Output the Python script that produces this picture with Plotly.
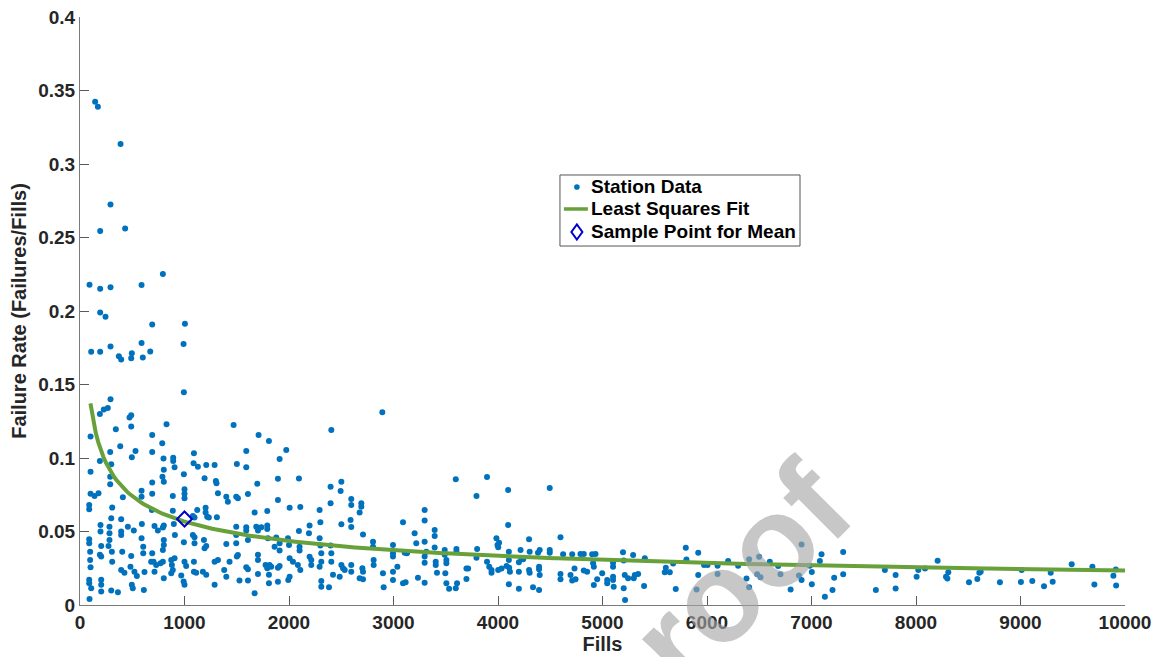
import numpy as np
import plotly.graph_objects as go

# ---- Station data (Fills, Failure rate) ----
UPPER_FILLS = [145, 171, 388, 292, 193, 432, 793, 91, 193, 292, 589, 193, 244, 691, 1004,
               107, 193, 292, 372, 394, 490, 496, 601, 672, 589, 991]
UPPER_RATE = [.3424, .339, .3136, .2725, .2544, .2562, .2251, .2179, .2152, .2161, .2177, .199, .1961,
              .1909, .1913, .1723, .1723, .1759, .1693, .167, .1678, .1712, .1684, .1725, .1782, .1775]

LEFT_FILLS = [994, 292, 266, 228, 190, 490, 474, 828, 490, 343, 101, 691, 787, 385, 531, 496, 691, 289,
              190, 299, 101, 799, 892, 892, 802, 905, 789, 802, 994, 1090, 1087, 1128, 1208, 1288, 1192,
              1300, 1306, 289, 289, 691, 589, 589, 691, 410, 101, 139, 177, 88, 88, 308, 888, 1000, 1000,
              1000, 1400, 1415, 1320, 1122, 1202, 1202, 1217, 1233, 1310, 1080, 1096, 888, 688, 299, 394,
              458, 592, 713, 793, 802, 196, 196, 282, 282, 394, 394, 515, 745, 898, 908, 994, 1080, 1096,
              1186, 1208, 1192, 1096, 88, 88, 97, 97, 101, 203, 190, 203, 282, 273, 305, 308, 404, 490,
              483, 589, 605, 605, 691, 704, 729, 713, 681, 802, 802, 793, 793, 770, 873, 879, 888, 873,
              905, 1000, 1016, 1090, 1090, 1112, 1176, 1208, 1288, 1320, 1380, 1400, 1431, 394, 425, 521,
              544, 617, 802, 969, 992, 1000, 1288, 88, 88, 107, 203, 203, 203, 299, 363, 496, 505, 611,
              91, 1400]
LEFT_RATE = [.1447, .140, .134, .133, .130, .129, .1275, .123, .1214, .1195, .1146, .1157, .110, .108,
             .1048, .1005, .104, .104, .098, .0957, .0907, .0996, .1002, .098, .092, .0937, .0873, .0839,
             .0889, .1032, .0964, .0941, .0953, .0953, .0862, .0844, .0828, .0873, .0821, .0833, .0778,
             .0737, .0756, .0733, .0756, .0742, .076, .068, .0651, .0663, .0742, .0787, .0756, .0726,
             .0737, .0703, .076, .0647, .0662, .0629, .0601, .0595, .0597, .0606, .0595, .0642, .0647,
             .059, .0583, .0533, .0551, .0538, .0527, .054, .0545, .05, .0533, .0488, .05, .0477, .0506,
             .0506, .0551, .0477, .0427, .0477, .0461, .0443, .0402, .0386, .042, .0447, .042, .0363,
             .0306, .0257, .0402, .0341, .033, .0443, .0402, .0363, .0295, .0363, .0334, .026, .0454,
             .0397, .0352, .0352, .0295, .0272, .0227, .0295, .0443, .0409, .0375, .0295, .0284, .0306,
             .0272, .0238, .0216, .0318, .0295, .0266, .0295, .0227, .022, .0227, .0205, .0295, .0306,
             .0238, .0193, .0295, .0238, .022, .0227, .0198, .0225, .0182, .02, .016, .0137, .0137,
             .0171, .0148, .0114, .0171, .0137, .0091, .0098, .0087, .0137, .0114, .0102, .004, .0415]

MID_FILLS = [1470, 2893, 1709, 1808, 2405, 1591, 1501, 1591, 1974, 1910, 1894, 2095, 1696, 1607, 1495,
             1511, 1894, 2398, 2501, 2494, 2398, 2006, 2108, 1671, 1792, 2293, 2300, 2596, 2596, 2692,
             2692, 2676, 2197, 2191, 2095, 2589, 2596, 2501, 2708, 1495, 1495, 1591, 1591, 1687, 1703,
             1735, 1792, 1792, 1798, 1607, 1878, 1910, 1990, 2000, 2101, 2101, 2293, 2300, 2309, 2309,
             2293, 2197, 2213, 2213, 2085, 2108, 2006, 2038, 2006, 1993, 2398, 2405, 2405, 2501, 2517,
             2533, 2485, 2421, 2596, 2596, 2702, 2708, 2676, 2708, 2804, 2804, 2810, 2810, 2899, 2906,
             1495, 1501, 1511, 1591, 1607, 1703, 1792, 1808, 1808, 1830, 1894, 1910, 1894, 1526, 1607,
             1671, 2309, 2309, 2383, 1862, 1910, 1703, 1703, 1776, 1814]
MID_RATE = [.1225, .1311, .1157, .1116, .119, .1048, .096, .0937, .1055, .0994, .0858, .086, .0824,
            .0755, .0737, .0726, .0715, .0805, .0839, .0776, .0692, .0662, .0667, .0629, .064, .0647,
            .0563, .0721, .068, .0692, .0669, .063, .054, .0488, .0504, .0579, .053, .0549, .0479, .0533,
            .0477, .0529, .0506, .0533, .0506, .0529, .054, .0517, .0454, .0442, .046, .042, .0454, .0409,
            .0397, .037, .0454, .0404, .0352, .0295, .0261, .0329, .0306, .0272, .0272, .0238, .0318,
            .0295, .0193, .017, .0404, .0352, .0295, .0272, .025, .0238, .0193, .0205, .0272, .0227,
            .025, .0227, .0182, .0175, .0431, .0397, .0306, .0272, .0216, .012, .042, .033, .034, .0257,
            .0243, .0211, .025, .0205, .0148, .0261, .0254, .0266, .0159, .0166, .0166, .008, .0164,
            .0125, .012, .0397, .037, .0341, .0306, .0272, .0272]

RIGHT_FILLS = [2995, 2995, 2995, 2995, 2995, 3037, 3091, 3091, 3116, 3107, 3129, 3202, 3218, 3234, 3298,
               3298, 3298, 3298, 3298, 3298, 3314, 3394, 3394, 3394, 3404, 3404, 3416, 3490, 3490, 3506,
               3506, 3496, 3506, 3532, 3596, 3608, 3596, 3602, 3602, 3698, 3714, 3698, 3794, 3800, 3794,
               3895, 3895, 3916, 3938, 3938, 3985, 3995, 4002, 4010, 4002, 4034, 4082, 4107, 4114, 4097,
               4097, 4104, 4104, 4104, 4200, 4200, 4200, 4216, 4225, 4241, 4297, 4303, 4297, 4303, 4335,
               4393, 4393, 4399, 4393, 4399, 4383, 4495, 4495, 4495, 4598, 4623, 4598, 4598, 4694, 4710,
               4742, 4732, 4710, 4789, 4821, 4821, 4853, 4901, 4917, 4933, 4910, 4949, 4917, 4997, 5045,
               5045, 5101, 5101, 5101, 5101, 5107, 5196, 5203, 5213, 5203, 5216, 5245, 5293, 5309, 5299,
               5341, 5398, 5405]
RIGHT_RATE = [.0409, .0352, .033, .0227, .017, .0261, .0563, .0148, .0155, .0356, .0352, .0488, .042,
              .0186, .0647, .0574, .0431, .033, .0288, .0152, .0363, .051, .047, .0392, .0295, .0272,
              .022, .0374, .0341, .0306, .0284, .0216, .0148, .011, .0114, .0148, .0855, .0381, .0363,
              .0249, .0249, .0177, .0742, .0381, .0322, .087, .0295, .0261, .0238, .022, .0454, .0409,
              .0393, .0424, .0238, .0249, .0266, .0254, .0227, .0783, .0544, .0363, .0306, .0141, .0291,
              .0227, .011, .0374, .0318, .0311, .0447, .0363, .0238, .022, .0121, .0261, .0243, .0204,
              .0102, .0374, .0356, .0374, .0356, .0796, .0461, .0345, .0211, .0175, .0204, .0166, .0175,
              .0249, .0345, .0347, .0347, .0234, .0227, .0345, .0261, .0347, .0284, .0175, .0136, .0216,
              .017, .0148, .0288, .0261, .0193, .017, .0125, .0358, .0302, .0204, .0114, .0034, .0182,
              .034, .0204, .0182, .0211, .013, .0318]

FAR_FILLS = [5606, 5596, 5644, 5676, 5701, 5797, 5803, 5900, 5916, 5916, 5972, 6005, 6101, 6101, 6202,
             6298, 6403, 6378, 6403, 6499, 6480, 6512, 6601, 6681, 6703, 6800, 6905, 6880, 6905, 6984,
             7003, 7003, 7080, 7096, 7128, 7201, 7217, 7303, 7303, 7616, 7702, 7805, 7805, 8006, 8022,
             8086, 8207, 8287, 8300, 8309, 8507, 8587, 8606, 8619, 8803, 9004, 9011, 9113, 9225, 9289,
             9308, 9490, 9688, 9707, 9889, 9915, 9912]
FAR_RATE = [.0253, .0222, .0222, .0283, .0108, .039, .031, .0106, .0356, .0204, .0272, .0272, .0267,
            .0211, .0299, .0267, .0312, .0181, .012, .0328, .021, .0188, .0294, .0265, .021, .0106, .0412,
            .0201, .017, .0267, .0142, .0224, .0299, .0346, .0056, .0102, .0186, .036, .021, .0102, .0238,
            .0204, .0113, .0193, .0238, .0249, .0301, .0192, .0181, .0222, .0154, .0177, .0219, .0226,
            .0154, .0156, .0238, .0163, .0127, .022, .0158, .0278, .026, .014, .0199, .0133, .0242]

# ---- Least squares power-law fit  rate = A * fills^B (coefficients) ----
FIT_A = 0.80
FIT_B = -0.383
FIT_RANGE = [100, 10000]

# ---- Sample point for mean ----
SAMPLE_FILLS = [1000]
SAMPLE_RATE = [0.0585]

X_TICKS = [0, 1000, 2000, 3000, 4000, 5000, 6000, 7000, 8000, 9000, 10000]
Y_TICKS = [0, 0.05, 0.1, 0.15, 0.2, 0.25, 0.3, 0.35, 0.4]
Y_TICK_TEXT = ["0", "0.05", "0.1", "0.15", "0.2", "0.25", "0.3", "0.35", "0.4"]

LEGEND_LABELS = ["Station Data", "Least Squares Fit", "Sample Point for Mean"]

fills = UPPER_FILLS + LEFT_FILLS + MID_FILLS + RIGHT_FILLS + FAR_FILLS
rate = UPPER_RATE + LEFT_RATE + MID_RATE + RIGHT_RATE + FAR_RATE

fit_x = np.linspace(FIT_RANGE[0], FIT_RANGE[1], 400)
fit_y = FIT_A * fit_x ** FIT_B

FONT = "Liberation Sans, Arial, sans-serif"
TXT = "#262626"
DOT_C = "#0072BD"
FIT_C = "#68A03A"
DIA_C = "#0000CC"

fig = go.Figure()
fig.add_trace(go.Scatter(x=fills, y=rate, mode="markers", name=LEGEND_LABELS[0], showlegend=False,
                         marker=dict(size=6, color=DOT_C, line=dict(width=0))))
fig.add_trace(go.Scatter(x=fit_x, y=fit_y, mode="lines", name=LEGEND_LABELS[1], showlegend=False,
                         line=dict(color=FIT_C, width=4)))
fig.add_trace(go.Scatter(x=SAMPLE_FILLS, y=SAMPLE_RATE, mode="markers", name=LEGEND_LABELS[2],
                         showlegend=False,
                         marker=dict(symbol="diamond-open", size=11.5, color=DIA_C,
                                     line=dict(width=2, color=DIA_C))))

axis_common = dict(showgrid=False, zeroline=False, showline=True, linecolor="#7a7a7a", linewidth=1,
                   ticks="inside", ticklen=9, tickcolor="#5a5a5a", tickwidth=1, automargin=False,
                   tickfont=dict(family=FONT, size=19, color=TXT, weight="bold"), mirror=False)

fig.update_xaxes(range=[0, 10000], tickvals=X_TICKS, ticktext=[str(v) for v in X_TICKS],
                 title=dict(text="Fills", font=dict(family=FONT, size=20, color=TXT, weight="bold"),
                            standoff=2), **axis_common)
fig.update_yaxes(range=[0, 0.4], tickvals=Y_TICKS, ticktext=Y_TICK_TEXT,
                 title=dict(text="Failure Rate (Failures/Fills)",
                            font=dict(family=FONT, size=20, color=TXT, weight="bold"), standoff=6),
                 **axis_common)

# ---- legend box (drawn in paper coordinates, MATLAB style) ----
LEG_L, LEG_R, LEG_T, LEG_B = 0.4593, 0.689, 0.7313, 0.6105
ROW_Y = [0.7109, 0.6735, 0.6344]
SYM_X = 0.4755
TXT_X = 0.487

shapes = [
    dict(type="rect", xref="paper", yref="paper", x0=LEG_L, x1=LEG_R, y0=LEG_B, y1=LEG_T,
         line=dict(color="#555555", width=1), fillcolor="white", layer="above"),
    dict(type="circle", xref="paper", yref="paper", xsizemode="pixel", ysizemode="pixel",
         xanchor=SYM_X, yanchor=ROW_Y[0], x0=-2.8, x1=2.8, y0=-2.8, y1=2.8,
         fillcolor=DOT_C, line=dict(width=0), layer="above"),
    dict(type="line", xref="paper", yref="paper", xsizemode="pixel", ysizemode="pixel",
         xanchor=SYM_X, yanchor=ROW_Y[1], x0=-13, x1=11, y0=0, y1=0,
         line=dict(color=FIT_C, width=3.5), layer="above"),
    dict(type="path", xref="paper", yref="paper", xsizemode="pixel", ysizemode="pixel",
         xanchor=SYM_X, yanchor=ROW_Y[2], path="M0,-7.5 L5.5,0 L0,7.5 L-5.5,0 Z",
         line=dict(color=DIA_C, width=2), fillcolor="rgba(0,0,0,0)", layer="above"),
]

annotations = [dict(text=lab, x=TXT_X, y=yy, xref="paper", yref="paper", xanchor="left",
                    yanchor="middle", showarrow=False,
                    font=dict(family=FONT, size=19, color="black", weight="bold"))
               for lab, yy in zip(LEGEND_LABELS, ROW_Y)]

annotations.append(dict(text="roof", x=0.632, y=0.053, xref="paper", yref="paper",
                        xanchor="center", yanchor="middle", textangle=-45, showarrow=False,
                        font=dict(family=FONT, size=128, color="rgba(165,165,165,0.62)",
                                  weight="bold")))

fig.update_layout(
    width=1157, height=657,
    margin=dict(l=80, r=32, t=17, b=52),
    plot_bgcolor="white", paper_bgcolor="white",
    showlegend=False,
    shapes=shapes,
    annotations=annotations,
)

fig.write_html("out.html")
